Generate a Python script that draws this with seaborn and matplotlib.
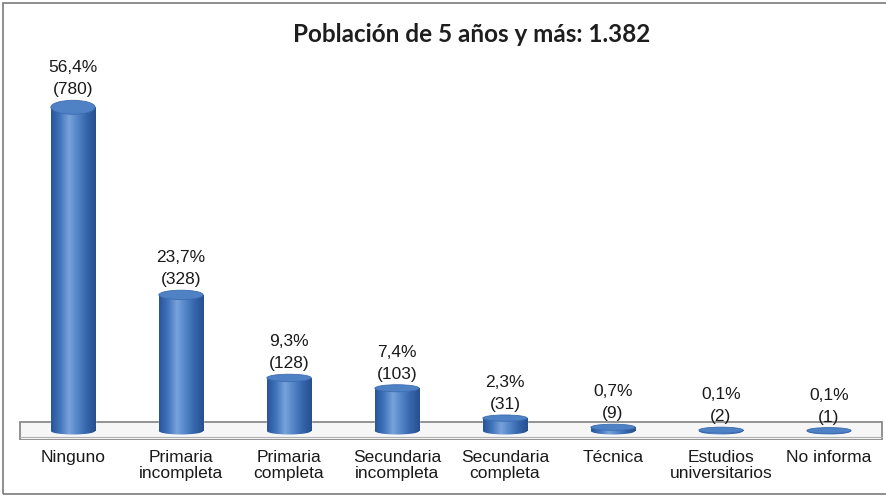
import numpy as np
import pandas as pd
import matplotlib
matplotlib.use("Agg")
import matplotlib.pyplot as plt
import seaborn as sns
from matplotlib.patches import Ellipse, Rectangle
from matplotlib.colors import LinearSegmentedColormap

# datos del grafico
categorias = ["Ninguno", "Primaria\nincompleta", "Primaria\ncompleta", "Secundaria\nincompleta",
              "Secundaria\ncompleta", "Técnica", "Estudios\nuniversitarios", "No informa"]
personas = [780, 328, 128, 103, 31, 9, 2, 1]
porcentajes = ["56,4%", "23,7%", "9,3%", "7,4%", "2,3%", "0,7%", "0,1%", "0,1%"]
titulo = "Población de 5 años y más: 1.382"

df = pd.DataFrame({"categoria": categorias, "personas": personas, "pct": porcentajes})

sns.set_style("white")
plt.rcParams["font.family"] = ["Liberation Sans", "DejaVu Sans"]

W, H = 887, 497
fig = plt.figure(figsize=(W / 100, H / 100), dpi=100)
ax = fig.add_axes([19 / W, (H - 440) / H, 864 / W, 390 / H])

sns.barplot(data=df, x="categoria", y="personas", color="#3565ad", width=0.41,
            saturation=1, ax=ax, zorder=2)

ylo, yhi = -21.7, 918
ax.set_xlim(-0.5, 7.5)
ax.set_ylim(ylo, yhi)
px_unit = 390 / (yhi - ylo)

# degradado horizontal para simular cilindro
cyl = LinearSegmentedColormap.from_list(
    "cyl", ["#28559a", "#4275bd", "#78a2da", "#5283c6", "#3465ab", "#27508f"])
grad = np.linspace(0, 1, 64).reshape(1, -1)

# piso
ax.add_patch(Rectangle((-0.49, -21.7), 7.98, 43.4, facecolor="#f6f6f6",
                       edgecolor="#8a8a8a", lw=1.3, zorder=1))
ax.plot([-0.49, 7.49], [-14.0, -14.0], color="#b0b0b0", lw=0.8, zorder=1)

bars = list(ax.patches)[:len(personas)]
for i, (bar, n, pct) in enumerate(zip(bars, personas, porcentajes)):
    x0, w = bar.get_x(), bar.get_width()
    cx = x0 + w / 2
    top_h = (6 + 8 * n / max(personas)) / px_unit
    bot_h = 7 / px_unit
    # base redondeada
    e_bot = Ellipse((cx, 0), w, bot_h, facecolor="none", edgecolor="none", zorder=2)
    ax.add_patch(e_bot)
    im = ax.imshow(grad, cmap=cyl, extent=[x0, x0 + w, -bot_h, n], aspect="auto", zorder=2.1)
    im.set_clip_path(e_bot)
    im2 = ax.imshow(grad, cmap=cyl, extent=[x0, x0 + w, 0, n], aspect="auto", zorder=2.2)
    im2.set_clip_path(bar)
    # tapa superior
    ax.add_patch(Ellipse((cx, n), w, top_h, facecolor="#4f81c5",
                         edgecolor="#3d6db0", lw=0.6, zorder=3))
    ax.annotate(f"{pct}\n({n})", xy=(cx, n + top_h / 2), xytext=(0, 2),
                textcoords="offset points", ha="center", va="bottom",
                fontsize=12.5, linespacing=1.6, color="#1a1a1a", zorder=4)

ax.set_xlim(-0.5, 7.5)
ax.set_ylim(ylo, yhi)
ax.set_xlabel("")
ax.set_ylabel("")
ax.set_yticks([])
ax.tick_params(axis="x", length=0, pad=7, labelsize=12.5, colors="#1a1a1a")
for lbl in ax.get_xticklabels():
    lbl.set_linespacing(1.08)
sns.despine(ax=ax, left=True, bottom=True)

fig.text(472 / W, 1 - 35 / H, titulo, ha="center", va="center", fontsize=17.5,
         fontweight="bold", family=["Lato", "DejaVu Sans"], color="#1e1e1e")

# marco exterior
fig.patches.append(Rectangle((3 / W, 3 / H), 1.2, 1 - 6 / H, transform=fig.transFigure,
                             fill=False, edgecolor="#7a7a7a", lw=1.2))

fig.savefig("out.png", dpi=100)
